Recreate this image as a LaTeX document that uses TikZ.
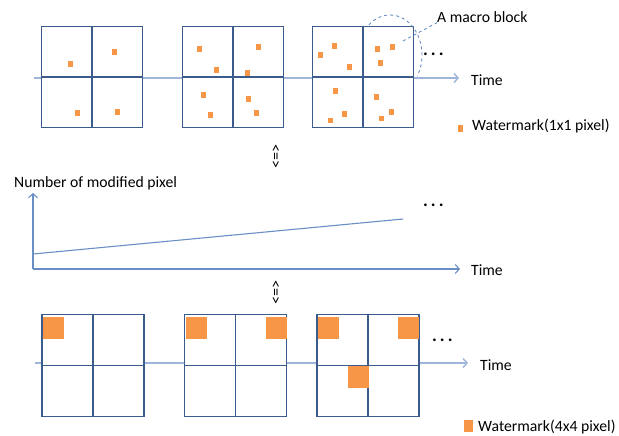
\documentclass[tikz,border=0pt]{standalone}
\usepackage{fontspec}
\setmainfont{Carlito}
\usetikzlibrary{arrows.meta}
\definecolor{blockblue}{HTML}{3B5B8C}
\definecolor{axisblue}{HTML}{6A8FC6}
\definecolor{lineblue}{HTML}{9DB6DA}
\definecolor{wmorange}{HTML}{F79646}

\begin{document}
\begin{tikzpicture}[x=1pt,y=-1pt,
    font=\fontsize{15.7}{18}\selectfont,
    txt/.style={inner sep=0pt,anchor=west},
    dotsnode/.style={inner sep=0pt,anchor=west,font=\fontsize{18}{20}\selectfont\bfseries},
    mblock/.style={draw=blockblue,line width=1.8pt,fill=white,inner sep=0pt},
    timeline/.style={lineblue,line width=1.4pt,-{Straight Barb[length=4pt,width=9pt]}},
    axis/.style={axisblue,line width=1.1pt,-{Straight Barb[length=4pt,width=9pt]}},
    wm/.style={fill=wmorange}]
  \useasboundingbox (0,0) rectangle (619,436);
  % --- Helper: \mblock{name}{x}{y}{size} ---
  % A macro block of four sub-blocks, centred at (x,y).
  \newcommand{\mblock}[4]{%
    \node[mblock,minimum width=#4,minimum height=#4] (#1) at (#2,#3) {};
    \draw[blockblue,line width=1.3pt] (#1.north) -- (#1.south) (#1.west) -- (#1.east);}

  % Top row: 1x1 pixel watermarks spreading over time.
  \coordinate (t1s) at (34,78);
  \coordinate (t1e) at (459,78);
  \draw[timeline] (t1s) -- (t1e);
  \node[txt] (time1) at (471,80) {Time};
  \mblock{a1}{92}{77}{101pt}
  \mblock{a2}{233}{77}{101pt}
  \mblock{a3}{363}{77}{101pt}
  \foreach \x/\y in {70/64,114/52,77/113,117/112,
                     199/49,216/70,258/47,247/73,203/95,210/115,248/99,256/113,
                     320/55,334/46,349/67,335/91,344/114,330/120,
                     377/49,392/47,380/63,376/97,391/112,381/118}
    \fill[wm] (\x-2,\y-2.5) rectangle ++(4.5,5.5);
  \node[dotsnode] (dots1) at (423,54) {.\,.\,.};
  \node[txt] (macro) at (437,17) {A macro block};
  \draw[axisblue,dashed,line width=0.9pt] (390,55) ++(-131:32 and 40)
    arc[start angle=-131,end angle=32,x radius=32,y radius=40];
  \coordinate (mbp) at (403,41);
  \draw[axisblue,dashed,line width=0.9pt] (mbp) -- (macro.south west);
  \fill[wm] (458,125) rectangle (463,132);
  \node[txt] (leg1) at (472,126) {Watermark(1x1 pixel)};

  \node[rotate=-90,inner sep=0pt] (eq1) at (275,156.5) {<=>};

  % Middle: number of modified pixels against time.
  \coordinate (o) at (33,269);
  \coordinate (ytop) at (33,193);
  \coordinate (xend) at (460,269);
  \node[txt] (ylab) at (14,183) {Number of modified pixel};
  \draw[axis] (o) -- (ytop);
  \draw[axis] (o) -- (xend);
  \node[txt] (time2) at (471,270) {Time};
  \coordinate (ls) at (33,254);
  \coordinate (le) at (403,219);
  \draw[axisblue,line width=1.1pt] (ls) -- (le);
  \node[dotsnode] (dots2) at (423,205) {.\,.\,.};

  \node[rotate=-90,inner sep=0pt] (eq2) at (275,292.5) {<=>};

  % Bottom row: 4x4 pixel watermarks.
  \coordinate (t3s) at (35,363);
  \coordinate (t3e) at (468,363);
  \draw[timeline] (t3s) -- (t3e);
  \node[txt] (time3) at (480,365) {Time};
  \mblock{c1}{93}{365.5}{102pt}
  \mblock{c2}{235.5}{365.5}{102pt}
  \mblock{c3}{368}{365.5}{102pt}
  \foreach \x/\y in {43/317,186/317,266/317,318/317,398/317,348/366}
    \fill[wm] (\x,\y) rectangle ++(21,22);
  \node[dotsnode] (dots3) at (432,340) {.\,.\,.};
  \fill[wm] (464,420) rectangle (473,432);
  \node[txt] (leg2) at (478,427) {Watermark(4x4 pixel)};
\end{tikzpicture}
\end{document}
